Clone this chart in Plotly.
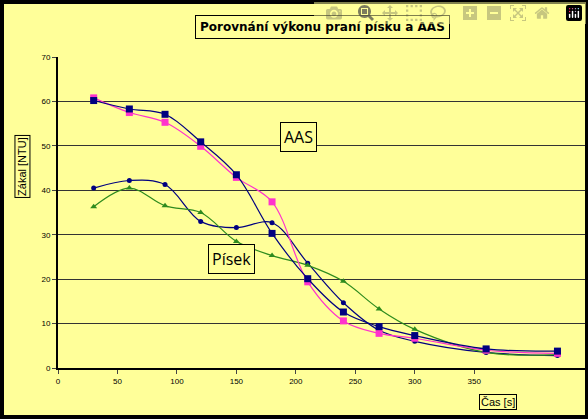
import plotly.graph_objects as go

t = [30, 60, 90, 120, 150, 180, 210, 240, 270, 300, 360, 420]
pisek1 = [40.5, 42.2, 41.3, 33.0, 31.6, 32.7, 23.6, 14.7, 8.5, 6.0, 3.5, 2.8]
pisek2 = [36.3, 40.5, 36.5, 35.0, 28.5, 25.3, 23.1, 19.5, 13.3, 8.7, 3.5, 3.0]
aas1 = [60.2, 58.3, 57.1, 50.9, 43.5, 30.3, 20.1, 12.6, 9.3, 7.3, 4.3, 3.8]
aas2 = [60.8, 57.5, 55.3, 49.9, 42.9, 37.4, 19.4, 10.6, 7.8, 6.7, 4.0, 3.3]

fig = go.Figure()
def add(y, color, sym, size, w):
    fig.add_trace(go.Scatter(x=t, y=y, mode="lines+markers", line=dict(color=color, width=w, shape="spline"),
                             marker=dict(color=color, symbol=sym, size=size), showlegend=False, cliponaxis=True))
add(pisek1, "#000080", "circle", 5, 1.2)
add(pisek2, "#2E8B1E", "triangle-up", 6, 1.2)
add(aas2, "#FF33CC", "square", 7, 1.2)
add(aas1, "#000080", "square", 7, 1.2)

box = dict(bordercolor="black", borderwidth=1, bgcolor="#FFFF99", showarrow=False)
fig.add_annotation(x=0.5, y=1.135, xref="paper", yref="paper", text="<b>Porovnání výkonu praní písku a AAS</b>",
                   font=dict(family="DejaVu Sans", size=12, color="black"), borderpad=4, **box)
fig.add_annotation(x=0.455, y=0.79, xref="paper", yref="paper", text="AAS", font=dict(family="Open Sans", size=16, color="black"), borderpad=3, **box)
fig.add_annotation(x=0.285, y=0.35, xref="paper", yref="paper", text="Písek", font=dict(family="Open Sans", size=16, color="black"), borderpad=3, **box)
fig.add_annotation(x=-0.082, y=0.75, xref="paper", yref="paper", text="Zákal [NTU]", textangle=-90,
                   font=dict(family="Liberation Sans Narrow, Liberation Sans", size=11, color="black"), borderpad=1, **box)
fig.add_annotation(x=0.87, y=-0.135, xref="paper", yref="paper", text="Čas [s]",
                   font=dict(family="Liberation Sans Narrow, Liberation Sans", size=11, color="black"), borderpad=1, **box)

fig.update_layout(
    width=588, height=419, paper_bgcolor="#FFFF99", plot_bgcolor="#FFFF99",
    margin=dict(l=58, r=2, t=57, b=51),
    xaxis=dict(range=[0, 444], tickvals=[0, 50, 100, 150, 200, 250, 300, 350], showgrid=False, zeroline=False,
               showline=True, linecolor="black", linewidth=2, ticks="outside", ticklen=4,
               tickfont=dict(family="Liberation Sans", size=8, color="black")),
    yaxis=dict(range=[0, 70], dtick=10, showgrid=True, gridcolor="#333333", gridwidth=1, zeroline=False,
               showline=True, linecolor="black", linewidth=2, ticks="outside", ticklen=4,
               tickfont=dict(family="Liberation Sans", size=8, color="black")),
)
fig.update_layout(shapes=[dict(type="rect", xref="paper", yref="paper",
                               x0=-56/528, y0=-49/311, x1=1+1/528, y1=1+55/311,
                               line=dict(color="black", width=4))])
fig.write_html("out.html", post_script="document.body.style.margin='0';document.body.style.overflow='hidden';")
